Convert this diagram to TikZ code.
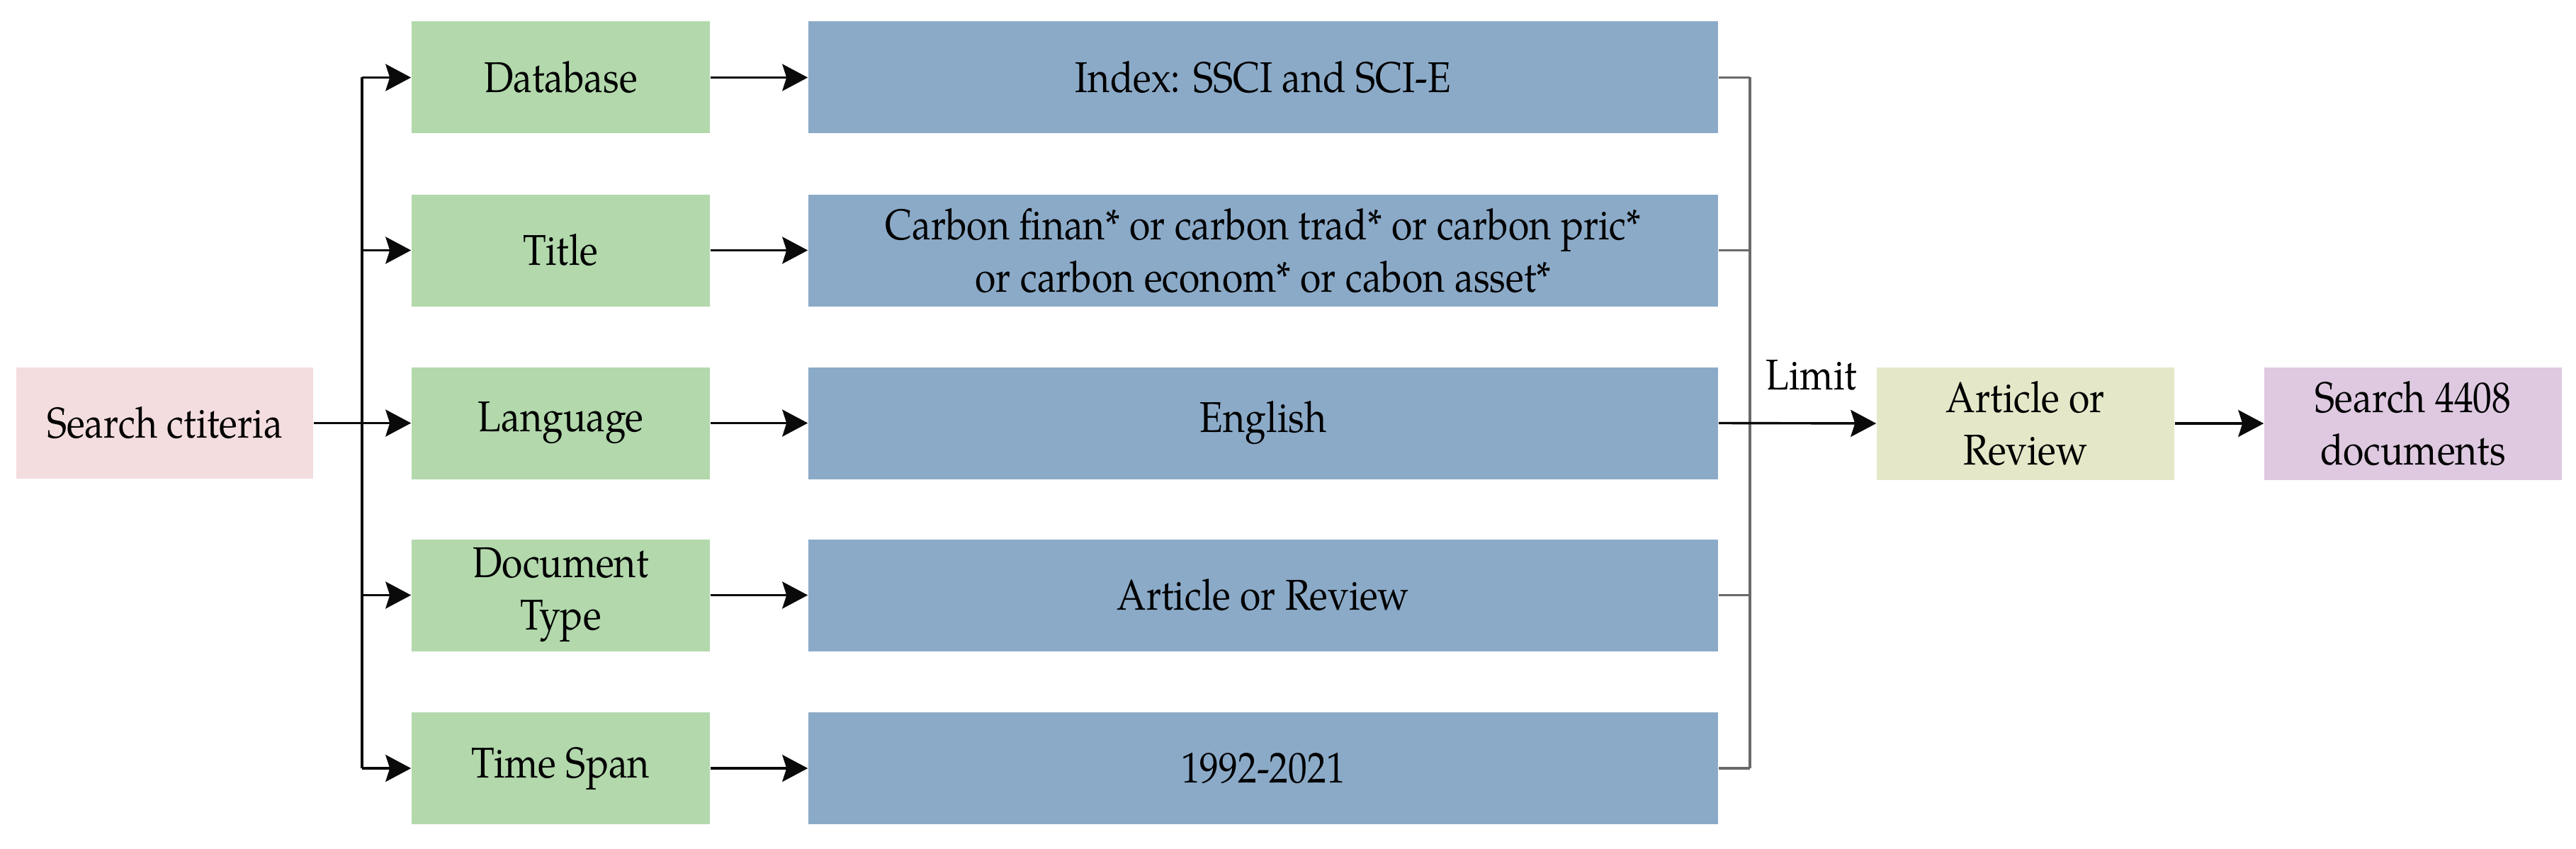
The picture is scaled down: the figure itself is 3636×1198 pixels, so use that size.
\documentclass[tikz,border=0pt]{standalone}
\usepackage{fontspec}
\setmainfont{texgyrepagella-regular.otf}[FakeStretch=0.88]
\usetikzlibrary{arrows.meta}
\definecolor{cpink}{RGB}{244,221,223}
\definecolor{cgreen}{RGB}{178,216,172}
\definecolor{cblue}{RGB}{139,170,200}
\definecolor{cyel}{RGB}{228,232,200}
\definecolor{cviol}{RGB}{222,201,225}
\definecolor{cline}{RGB}{10,10,10}
\definecolor{cbrack}{RGB}{105,105,105}
\tikzset{
  box/.style={rectangle, inner sep=0pt, align=center, font=\fontsize{15.2}{18.5}\selectfont},
  greenbox/.style={box, fill=cgreen, minimum width=105.25pt, minimum height=39.5pt},
  bluebox/.style={box, fill=cblue, minimum width=321pt, minimum height=39.5pt},
  arr/.style={draw=cline, line width=0.85pt, -{Stealth[length=9pt,width=9.5pt,inset=1.5pt]}},
  ln/.style={draw=cline, line width=0.85pt},
  brk/.style={draw=cbrack, line width=0.9pt},
}
\begin{document}
\begin{tikzpicture}[x=0.25pt,y=-0.25pt]
\useasboundingbox (0,0) rectangle (3636,1198);
\node[box, fill=cpink, minimum width=104.75pt, minimum height=39.25pt] (sc) at (232.5,597.5) {Search ctiteria};
\node[greenbox] (g1) at (791.5,109.5) {Database};
\node[greenbox] (g2) at (791.5,353.5) {Title};
\node[greenbox] (g3) at (791.5,597.5) {Language};
\node[greenbox] (g4) at (791.5,840.5) {Document\\Type};
\node[greenbox] (g5) at (791.5,1085) {Time Span};
\node[bluebox] (b1) at (1783,109.5) {Index: SSCI and SCI-E};
\node[bluebox] (b2) at (1783,353.5) {Carbon finan* or carbon trad* or carbon pric*\\or carbon econom* or cabon asset*};
\node[bluebox] (b3) at (1783,597.5) {English};
\node[bluebox] (b4) at (1783,840.5) {Article or Review};
\node[bluebox] (b5) at (1783,1085) {1992-2021};
\node[box, fill=cyel, minimum width=105pt, minimum height=39.75pt] (ar) at (2859,598) {Article or\\Review};
\node[box, fill=cviol, minimum width=105pt, minimum height=39.75pt] (sd) at (3406,598) {Search 4408\\documents};
\coordinate (tk) at (511,597.5);
\coordinate (bk) at (2470,597.5);
\node[box, anchor=base west] (lim) at (2492,550) {Limit};
% left trunk
\draw[ln] (sc.east) -- (tk);
\draw[ln] (tk |- g1.west) -- (tk |- g5.west);
\foreach \i in {1,...,5} {
  \draw[arr] (tk |- g\i.west) -- (g\i.west);
  \draw[arr] (g\i.east) -- (b\i.west);
  \draw[brk] (b\i.east) -- (bk |- b\i.east);
}
\draw[brk] (bk |- b1.east) -- (bk |- b5.east);
\draw[arr] (b3.east) -- (ar.west);
\draw[arr] (ar.east) -- (sd.west);
\end{tikzpicture}
\end{document}
